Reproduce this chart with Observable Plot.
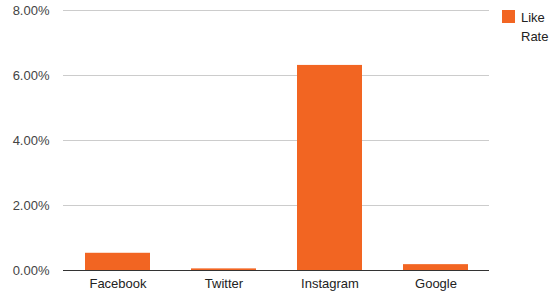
<!DOCTYPE html>
<html>
<head>
<meta charset="utf-8">
<script src="https://cdn.jsdelivr.net/npm/d3@7"></script>
<script src="https://cdn.jsdelivr.net/npm/@observablehq/plot@0.6"></script>
<style>
  body { margin: 0; background: #fff; font-family: Arial, "Liberation Sans", sans-serif; }
  #wrap { position: relative; width: 560px; height: 297px; }
  #legend { position: absolute; left: 502px; top: 9px; font-size: 13px; color: #222; line-height: 19px; }
  #legend .sw { position: absolute; left: 0; top: 1px; width: 13px; height: 13px; background: #f26522; }
  #legend .lbl { position: absolute; left: 19px; top: -1px; white-space: nowrap; }
</style>
</head>
<body>
<div id="wrap">
  <div id="chart"></div>
  <div id="legend"><div class="sw"></div><div class="lbl">Like<br>Rate</div></div>
</div>
<script>
const categories = ["Facebook", "Twitter", "Instagram", "Google"];
const likeRate = [0.0053, 0.0005, 0.0631, 0.0018];
const yTicks = [0, 0.02, 0.04, 0.06, 0.08];
const seriesName = "Like Rate";

const data = categories.map((c, i) => ({platform: c, value: likeRate[i]}));

const chart = Plot.plot({
  width: 560,
  height: 297,
  marginLeft: 63,
  marginRight: 71,
  marginTop: 10,
  marginBottom: 27,
  style: { fontFamily: "Arial, 'Liberation Sans', sans-serif", fontSize: "13px", color: "#444", background: "#fff" },
  x: { domain: categories, paddingInner: 0.39, paddingOuter: 0.195, label: null },
  y: { domain: [0, 0.08], label: null },
  marks: [
    Plot.gridY(yTicks, { stroke: "#cccccc", strokeOpacity: 1 }),
    Plot.barY(data, { x: "platform", y: "value", fill: "#f26522" }),
    Plot.ruleY([0], { stroke: "#333333" }),
    Plot.axisY(yTicks, { tickSize: 0, tickPadding: 14, tickFormat: d => (d * 100).toFixed(2) + "%", fill: "#444", label: null }),
    Plot.axisX({ tickSize: 0, tickPadding: 8, fill: "#222", label: null })
  ]
});
document.getElementById("chart").appendChild(chart);
</script>
</body>
</html>
